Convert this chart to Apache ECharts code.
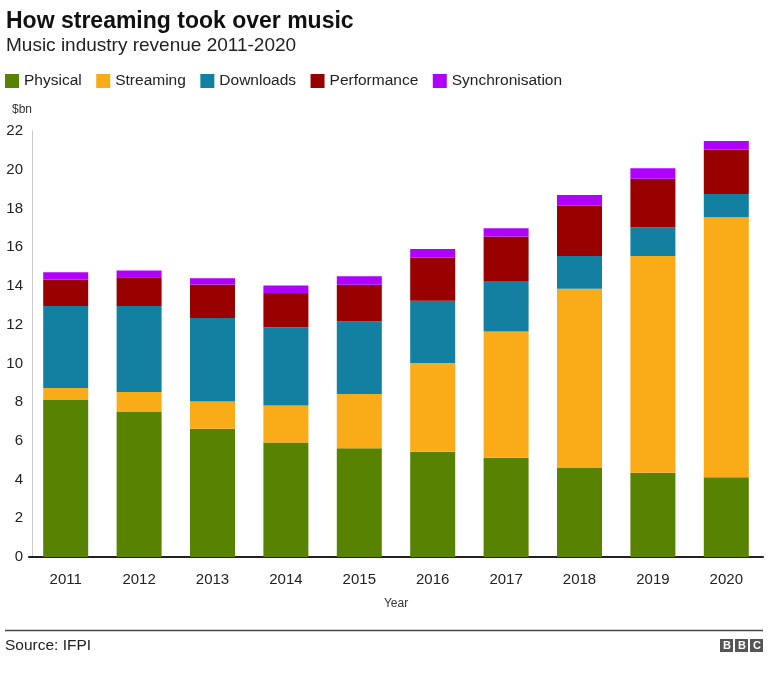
<!DOCTYPE html>
<html>
<head>
<meta charset="utf-8">
<script src="https://cdn.jsdelivr.net/npm/echarts@6/dist/echarts.min.js"></script>
<style>
  html, body { margin: 0; padding: 0; background: #fff; }
  #chart { width: 768px; height: 689px; }
</style>
</head>
<body>
<div id="chart"></div>
<script>
var years = ['2011', '2012', '2013', '2014', '2015', '2016', '2017', '2018', '2019', '2020'];
var physical = [8.11, 7.51, 6.62, 5.91, 5.62, 5.43, 5.12, 4.62, 4.35, 4.12];
var streaming = [0.62, 1.01, 1.41, 1.91, 2.80, 4.59, 6.53, 9.23, 11.20, 13.43];
var downloads = [4.23, 4.44, 4.31, 4.04, 3.74, 3.21, 2.60, 1.70, 1.48, 1.20];
var performance = [1.37, 1.49, 1.73, 1.78, 1.90, 2.22, 2.30, 2.59, 2.51, 2.28];
var synchronisation = [0.38, 0.34, 0.33, 0.38, 0.44, 0.45, 0.43, 0.56, 0.53, 0.45];

var font = '"Liberation Sans", Arial, Helvetica, sans-serif';
var myChart = echarts.init(document.getElementById('chart'));

function bar(name, data, color) {
    return {
        name: name,
        type: 'bar',
        stack: 'total',
        barWidth: 45,
        data: data,
        itemStyle: { color: color },
        animation: false
    };
}

// BBC logo blocks
var logo = [];
['B', 'B', 'C'].forEach(function (ch, i) {
    logo.push({
        type: 'rect',
        left: 720 + i * 15,
        top: 639,
        shape: { width: 13, height: 13 },
        style: { fill: '#555' }
    });
    logo.push({
        type: 'text',
        left: 723 + i * 15,
        top: 640,
        style: { text: ch, fill: '#fff', font: 'bold 11px ' + font }
    });
});

var option = {
    backgroundColor: '#fff',
    textStyle: { fontFamily: font },
    title: [
        {
            text: 'How streaming took over music',
            left: 6, top: 10, padding: 0,
            textStyle: { fontSize: 23, fontWeight: 'bold', color: '#111', fontFamily: font }
        },
        {
            text: 'Music industry revenue 2011-2020',
            left: 6, top: 36, padding: 0,
            textStyle: { fontSize: 19, fontWeight: 'normal', color: '#222', fontFamily: font }
        },
        {
            text: 'Source: IFPI',
            left: 5, top: 638, padding: 0,
            textStyle: { fontSize: 15.5, fontWeight: 'normal', color: '#222', fontFamily: font }
        },
        {
            text: '$bn',
            left: 12, top: 104, padding: 0,
            textStyle: { fontSize: 12, fontWeight: 'normal', color: '#333', fontFamily: font }
        }
    ],
    legend: {
        left: 5, top: 73, padding: 0,
        itemWidth: 14, itemHeight: 14,
        itemGap: 14.5,
        icon: 'rect',
        textStyle: { fontSize: 15.5, color: '#222', fontFamily: font },
        data: ['Physical', 'Streaming', 'Downloads', 'Performance', 'Synchronisation']
    },
    grid: { left: 29, right: 5, top: 131, bottom: 132, containLabel: false },
    xAxis: {
        type: 'category',
        data: years,
        name: 'Year',
        nameLocation: 'middle',
        nameGap: 41,
        nameTextStyle: { fontSize: 12, color: '#333' },
        axisLine: { show: true, lineStyle: { color: '#222', width: 2 } },
        axisTick: { show: false },
        axisLabel: { fontSize: 15, color: '#222', margin: 15 }
    },
    yAxis: {
        type: 'value',
        min: 0, max: 22, interval: 2,
        offset: -3,
        axisLine: { show: true, lineStyle: { color: '#ccc', width: 1 } },
        axisTick: { show: false },
        splitLine: { show: false },
        axisLabel: { fontSize: 15, color: '#222', margin: 9 }
    },
    series: [
        bar('Physical', physical, '#588300'),
        bar('Streaming', streaming, '#FAAB18'),
        bar('Downloads', downloads, '#1380A1'),
        bar('Performance', performance, '#990000'),
        bar('Synchronisation', synchronisation, '#B000FF')
    ],
    graphic: [
        {
            type: 'line',
            shape: { x1: 5, y1: 630.5, x2: 763, y2: 630.5 },
            style: { stroke: '#444', lineWidth: 1.5 }
        }
    ].concat(logo)
};
myChart.setOption(option);
</script>
</body>
</html>
